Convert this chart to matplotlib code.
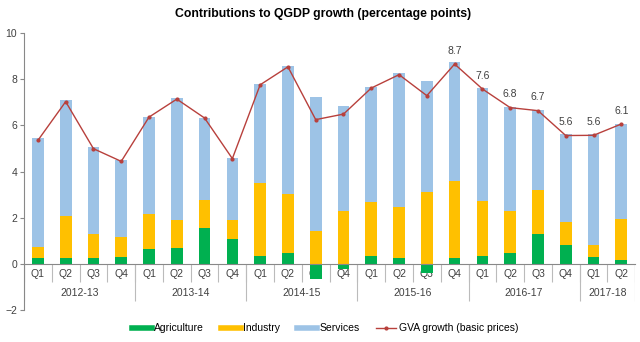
import numpy as np
import matplotlib
matplotlib.use("Agg")
import matplotlib.pyplot as plt
from matplotlib.lines import Line2D

plt.rcParams['font.family'] = ['Liberation Sans', 'DejaVu Sans']

# data (percentage points)
years = ['2012-13', '2013-14', '2014-15', '2015-16', '2016-17', '2017-18']
quarters = ['Q1', 'Q2', 'Q3', 'Q4'] * 5 + ['Q1', 'Q2']
agriculture = [0.25, 0.27, 0.25, 0.30, 0.63, 0.69, 1.53, 1.07,
               0.35, 0.45, -0.65, -0.22, 0.35, 0.27, -0.42, 0.25,
               0.35, 0.46, 1.31, 0.81, 0.30, 0.17]
industry = [0.49, 1.82, 1.03, 0.84, 1.52, 1.20, 1.23, 0.82,
            3.16, 2.59, 1.40, 2.29, 2.33, 2.20, 3.12, 3.33,
            2.36, 1.83, 1.88, 0.99, 0.51, 1.79]
services = [4.73, 4.99, 3.78, 3.36, 4.21, 5.30, 3.56, 2.68,
            4.30, 5.52, 5.82, 4.54, 4.98, 5.80, 4.79, 5.16,
            4.91, 4.51, 3.46, 3.81, 4.83, 4.11]
gva = [5.35, 7.03, 4.99, 4.44, 6.36, 7.14, 6.32, 4.56,
       7.76, 8.54, 6.25, 6.49, 7.62, 8.20, 7.29, 8.66,
       7.58, 6.77, 6.64, 5.56, 5.57, 6.06]
gva_labels = ['', '', '', '', '', '', '', '', '', '', '', '', '', '', '',
              '8.7', '7.6', '6.8', '6.7', '5.6', '5.6', '6.1']
year_sizes = [4, 4, 4, 4, 4, 2]

c_agr = '#00B050'
c_ind = '#FFC000'
c_ser = '#9DC3E6'
c_gva = '#B8403C'
c_txt = '#404040'

x = np.arange(len(quarters))
agr = np.array(agriculture)
ind = np.array(industry)
ser = np.array(services)
base = np.clip(agr, 0, None)

fig = plt.figure(figsize=(6.4, 3.42), dpi=100)
ax = fig.add_axes([0.0375, 0.094, 0.955, 0.809])

w = 0.42
ax.bar(x, agr, w, color=c_agr, zorder=2)
ax.bar(x, ind, w, bottom=base, color=c_ind, zorder=2)
ax.bar(x, ser, w, bottom=base + ind, color=c_ser, zorder=2)
ax.plot(x, gva, color=c_gva, lw=1, marker='o', ms=2, zorder=3)

for xi, yi, lab in zip(x, gva, gva_labels):
    if lab:
        ax.annotate(lab, (xi, yi), xytext=(0, 6), textcoords='offset points',
                    ha='center', va='bottom', fontsize=7.5, color=c_txt)

ax.set_xlim(-0.5, len(quarters) - 0.5)
ax.set_ylim(-2, 10)
ax.set_yticks(range(-2, 11, 2))
ax.tick_params(axis='y', labelsize=7.5, colors=c_txt, length=3, width=0.8,
               pad=2)
ax.tick_params(axis='y', color='#888888')

ax.spines['top'].set_visible(False)
ax.spines['right'].set_visible(False)
ax.spines['left'].set_color('#888888')
ax.spines['bottom'].set_color('#888888')
ax.spines['bottom'].set_position(('data', 0))

ax.set_xticks(x)
ax.set_xticklabels(quarters)
ax.tick_params(axis='x', length=0, labelsize=7.5, colors=c_txt, pad=4)

# separators under the axis
sep_q = np.arange(len(quarters) + 1) - 0.5
ax.vlines(sep_q, -0.8, 0, color='#BBBBBB', lw=0.8, zorder=1)
edges = np.concatenate([[0], np.cumsum(year_sizes)]) - 0.5
ax.vlines(edges, -1.6, 0, color='#BBBBBB', lw=0.8, zorder=1)
for i, yr in enumerate(years):
    ax.text((edges[i] + edges[i + 1]) / 2, -1.27, yr, ha='center',
            va='center', fontsize=7.5, color=c_txt)

fig.text(0.505, 0.958, 'Contributions to QGDP growth (percentage points)',
         ha='center', va='center', fontsize=8.8, fontweight='bold')

handles = [Line2D([], [], color=c_agr, lw=4),
           Line2D([], [], color=c_ind, lw=4),
           Line2D([], [], color=c_ser, lw=4),
           Line2D([], [], color=c_gva, lw=1, marker='o', ms=2)]
names = ['Agriculture', 'Industry', 'Services', 'GVA growth (basic prices)']
fig.legend(handles, names, loc='center', bbox_to_anchor=(0.508, 0.04),
           ncol=4, frameon=False, fontsize=7.5, handlelength=1.9,
           handletextpad=0.25, columnspacing=1.6)

fig.savefig('out.png', dpi=100)
